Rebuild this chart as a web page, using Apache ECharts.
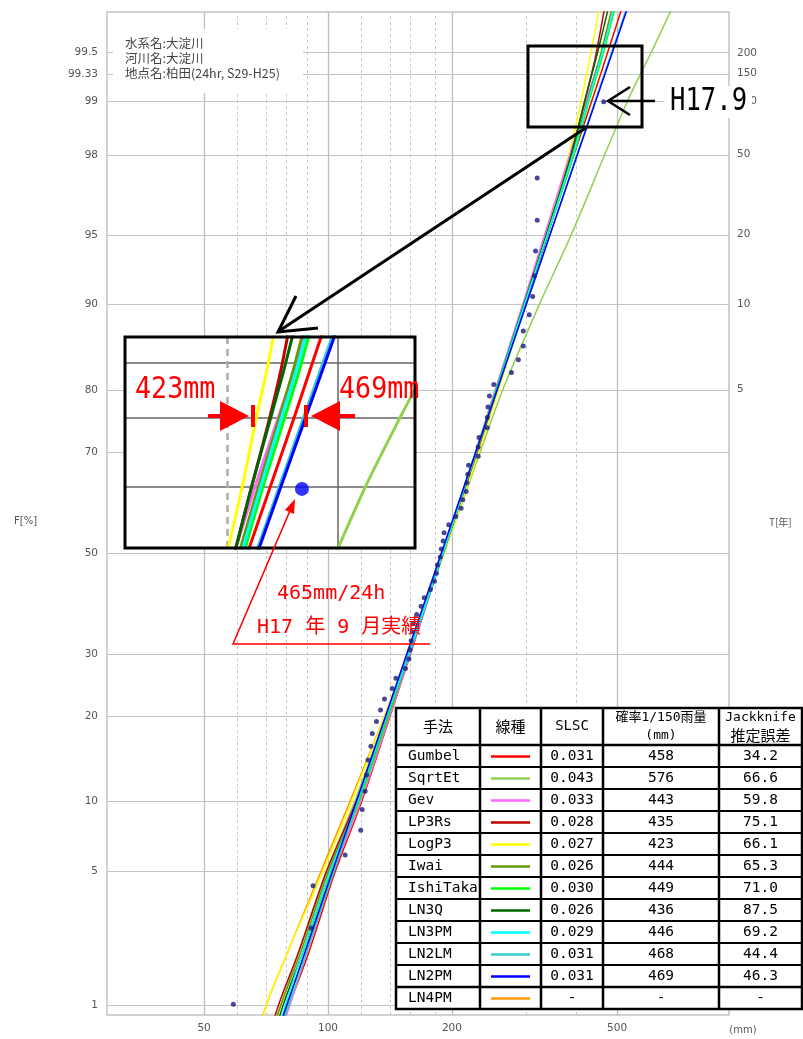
<!DOCTYPE html>
<html><head><meta charset="utf-8">
<script src="https://cdn.jsdelivr.net/npm/echarts@6/dist/echarts.min.js"></script>
<style>html,body{margin:0;padding:0;background:#fff}#c{width:803px;height:1039px}</style>
</head><body><div id="c"></div>
<script>
// ---------------- data ----------------
// observed annual max 24h rainfall (mm), sorted, and plotting probabilities (%)
const obsRain = [59,91,92,110,120,121,123,124,125,127,128,131,134,137,143,146,154,157,158,159,160,161,164,168,171,177,181,183,184,187,188,190,191,196,204,210,212,216,217,218,219,231,231,232,243,243,244,246,252,278,289,297,297,307,313,316,318,321,321,465];
const obsProb = [1.00,2.66,4.32,5.98,7.64,9.30,10.96,12.62,14.29,15.95,17.61,19.27,20.93,22.59,24.25,25.91,27.57,29.24,30.90,32.56,34.22,35.88,37.54,39.20,40.86,42.52,44.19,45.85,47.51,49.17,50.83,52.49,54.15,55.81,57.48,59.14,60.80,62.46,64.12,65.78,67.44,69.10,70.76,72.43,74.09,75.75,77.41,79.07,80.73,82.39,84.05,85.71,87.38,89.04,90.70,92.36,94.02,95.68,97.34,99.00];

// fitted quantiles (mm) at non-exceedance probabilities (%)
const probs     = [0.5, 1, 2, 5, 10, 20, 30, 50, 70, 80, 90, 95, 98, 99, 99.33, 99.5, 99.8];
const qGumbel   = [72.5,80.6,90.0,104.0,120.6,141.3,158.1,190.0,228.3,255.4,298.7,340.3,394.1,434.5,458,474.6,527.6];
const qSqrtEt   = [70,77,85,99,116,138,156,191,234,265,325,389,468,530,572,605,705];
const qGev      = [74,81,89,103,120,141,158,190,228,254,296,335,385,421,443,459,503];
const qLP3Rs    = [70,76,85,99,117,139,157,190,230,257,300,341,388,418,435,446,474];
const qLogP3    = [67,71,80,97,114,137,155,191,232,259,301,338,383,410,423,433,460];
const qIwai     = [71,77,86,100,118,140,157,190,229,256,299,340,390,424,444,458,496];
const qIshiTaka = [74,80,88,102,119,140,157,189,228,255,298,340,394,428,449,464,505];
const qLN3Q     = [72,78,87,101,118,139,157,190,229,256,298,338,388,418,436,449,486];
const qLN3PM    = [73,79,87,101,118,139,157,190,229,256,299,340,392,426,446,461,502];
const qLN2LM    = [73.5,80.5,89.0,103.3,118.1,138.7,155.8,188.8,228.8,257.0,302.0,344.9,400.7,442.7,467.2,485.1,542.0];
const qLN2PM    = [72.6,79.6,88.1,102.4,117.1,137.8,154.9,188.1,228.3,256.7,302.0,345.4,401.8,444.2,469.1,487.3,544.8];
const qLN4PM    = [66,71,80,96,113,137,156,190];

// legend table
const methods = ['Gumbel','SqrtEt','Gev','LP3Rs','LogP3','Iwai','IshiTaka','LN3Q','LN3PM','LN2LM','LN2PM','LN4PM'];
const colors  = ['#ff0000','#92d050','#ff66ff','#c00000','#ffff00','#669900','#00ff00','#006600','#00ffff','#33cccc','#0000ff','#ff9900'];
const slsc    = ['0.031','0.043','0.033','0.028','0.027','0.026','0.030','0.026','0.029','0.031','0.031','-'];
const q150    = ['458','576','443','435','423','444','449','436','446','468','469','-'];
const jack    = ['34.2','66.6','59.8','75.1','66.1','65.3','71.0','87.5','69.2','44.4','46.3','-'];
const quantiles = [qGumbel,qSqrtEt,qGev,qLP3Rs,qLogP3,qIwai,qIshiTaka,qLN3Q,qLN3PM,qLN2LM,qLN2PM,qLN4PM];

// axes
const xGridSolid  = [50,100,200,500];
const xGridDashed = [60,70,80,90,120,140,160,180,300,400];
const xTickLabels = ['50','100','200','500'];
const fGrid  = [1,5,10,20,30,50,70,80,90,95,98,99,99.33,99.5];
const tProbs = [80,90,95,98,99,99.33,99.5];
const tText  = ['5','10','20','50','100','150','200'];
const insetF = [99,99.33,99.5];

// ---------------- scales ----------------
function probit(p){
  const a=[-3.969683028665376e+01,2.209460984245205e+02,-2.759285104469687e+02,1.383577518672690e+02,-3.066479806614716e+01,2.506628277459239e+00];
  const b=[-5.447609879822406e+01,1.615858368580409e+02,-1.556989798598866e+02,6.680131188771972e+01,-1.328068155288572e+01];
  const c=[-7.784894002430293e-03,-3.223964580411365e-01,-2.400758277161838e+00,-2.549671010115819e+00,4.374664141464968e+00,2.938163982698783e+00];
  const d=[7.784695709041462e-03,3.224671290700398e-01,2.445134137142996e+00,3.754408661907416e+00];
  const pl=0.02425, ph=1-pl; let q,r;
  if(p<pl){q=Math.sqrt(-2*Math.log(p));return (((((c[0]*q+c[1])*q+c[2])*q+c[3])*q+c[4])*q+c[5])/((((d[0]*q+d[1])*q+d[2])*q+d[3])*q+1);}
  if(p<=ph){q=p-0.5;r=q*q;return (((((a[0]*r+a[1])*r+a[2])*r+a[3])*r+a[4])*r+a[5])*q/(((((b[0]*r+b[1])*r+b[2])*r+b[3])*r+b[4])*r+1);}
  q=Math.sqrt(-2*Math.log(1-p));return -(((((c[0]*q+c[1])*q+c[2])*q+c[3])*q+c[4])*q+c[5])/((((d[0]*q+d[1])*q+d[2])*q+d[3])*q+1);
}
const lx = v => Math.log10(v);
const pz = f => probit(f/100);
const curve = q => q.map((v,i)=>[lx(v), pz(probs[i])]);
const dots = obsRain.map((v,i)=>[lx(v), pz(obsProb[i])]);

// ---------------- chart ----------------
const chart = echarts.init(document.getElementById('c'), null, {renderer:'canvas'});
const labelStyle = {color:'#555', fontSize:10.5, fontFamily:'DejaVu Sans'};

const mainLines = [];
xGridSolid.forEach((v,i)=>mainLines.push({xAxis:lx(v), lineStyle:{color:'#bdbdbd',width:1.3,type:'solid'},
  label:{show:true, position:'start', distance:8, formatter:xTickLabels[i], ...labelStyle}}));
xGridDashed.forEach(v=>mainLines.push({xAxis:lx(v), lineStyle:{color:'#c8c8c8',width:1,type:[3,3]}, label:{show:false}}));
fGrid.forEach(f=>mainLines.push({yAxis:pz(f), lineStyle:{color:'#c4c4c4',width:1.2,type:'solid'},
  label:{show:true, position:'start', distance:9, formatter:String(f), ...labelStyle}}));

const insetLines = [];
insetF.forEach(f=>insetLines.push({yAxis:pz(f), lineStyle:{color:'#666',width:1.5,type:'solid'}}));
insetLines.push({xAxis:lx(400), lineStyle:{color:'#aaa',width:2.5,type:[7,5]}});
insetLines.push({xAxis:lx(500), lineStyle:{color:'#666',width:1.5,type:'solid'}});

const drawOrder = [11,1,4,0,2,3,5,6,7,8,9,10];
const series = [];
series.push({type:'scatter', xAxisIndex:0, yAxisIndex:0, data:[[0,0]], symbolSize:0, silent:true, z:1,
  markLine:{silent:true, symbol:['none','none'], z:1, animation:false, data:mainLines}});
drawOrder.forEach(k=>series.push({type:'line', name:methods[k], xAxisIndex:0, yAxisIndex:0, data:curve(quantiles[k]),
  showSymbol:false, silent:true, z:3, clip:true, smooth:0.3, lineStyle:{color:colors[k], width:1.5}}));
series.push({type:'scatter', xAxisIndex:0, yAxisIndex:0, data:dots, symbolSize:5, z:4, silent:true,
  itemStyle:{color:'#1a1a80'}});
// inset
series.push({type:'scatter', xAxisIndex:1, yAxisIndex:1, data:[[0,0]], symbolSize:0, silent:true, z:8,
  markLine:{silent:true, symbol:['none','none'], z:8, animation:false, label:{show:false}, data:insetLines}});
drawOrder.forEach(k=>series.push({type:'line', xAxisIndex:1, yAxisIndex:1, data:curve(quantiles[k]),
  showSymbol:false, silent:true, z:10, clip:true, smooth:0.3, lineStyle:{color:colors[k], width:3}}));
series.push({type:'scatter', xAxisIndex:1, yAxisIndex:1, data:dots, symbolSize:14, z:11, clip:true, silent:true,
  itemStyle:{color:'#0000ff'}});

// ---------------- graphics ----------------
const G = [];
const mono = '"DejaVu Sans Mono","Noto Sans CJK JP"';
const cjk = '"Noto Sans CJK JP"';
// info box
G.push({type:'rect', shape:{x:113,y:29,width:190,height:64}, style:{fill:'#fff'}, z:5});
['水系名:大淀川','河川名:大淀川','地点名:柏田(24hr, S29-H25)'].forEach((t,i)=>
  G.push({type:'text', x:125, y:43+i*15, style:{text:t, font:'12.5px '+cjk, fill:'#444', verticalAlign:'middle'}, z:6}));
// axis titles
G.push({type:'text', x:14, y:521, style:{text:'F[%]', font:'10px "DejaVu Sans"', fill:'#555', verticalAlign:'middle'}, z:6});
G.push({type:'text', x:769, y:522, style:{text:'T[年]', font:'10px '+cjk, fill:'#555', verticalAlign:'middle'}, z:6});
G.push({type:'text', x:743, y:1030, style:{text:'(mm)', font:'10px "DejaVu Sans"', fill:'#555', align:'center', verticalAlign:'middle'}, z:6});
// inset box
G.push({type:'rect', shape:{x:125,y:337,width:290,height:211}, style:{fill:'#fff'}, z:5});
G.push({type:'rect', shape:{x:125,y:337,width:290,height:211}, style:{fill:'none', stroke:'#000', lineWidth:3}, z:20});
// zoom box & connector
G.push({type:'rect', shape:{x:528,y:46,width:114,height:81}, style:{fill:'none', stroke:'#000', lineWidth:3}, z:20});
G.push({type:'line', shape:{x1:587,y1:127,x2:279,y2:331}, style:{stroke:'#000', lineWidth:3}, z:20});
G.push({type:'polyline', shape:{points:[[296,296],[278,332],[318,328]]}, style:{fill:'none', stroke:'#000', lineWidth:3}, z:20});
// H17.9 arrow + label
G.push({type:'line', shape:{x1:609,y1:101,x2:655,y2:101}, style:{stroke:'#000', lineWidth:2.5}, z:20});
G.push({type:'polyline', shape:{points:[[630,87],[608,101],[630,115]]}, style:{fill:'none', stroke:'#000', lineWidth:2.5}, z:20});
G.push({type:'rect', shape:{x:664,y:86,width:88,height:32}, style:{fill:'#fff'}, z:19});
G.push({type:'text', x:670, y:102, scaleX:0.8, style:{text:'H17.9', font:'32px "DejaVu Sans Mono"', fill:'#000', verticalAlign:'middle'}, z:20});
// red arrows in inset
G.push({type:'text', x:135, y:390, scaleX:0.89, style:{text:'423mm', font:'30px "DejaVu Sans Mono"', fill:'#ff0000', verticalAlign:'middle'}, z:21});
G.push({type:'text', x:339, y:390, scaleX:0.89, style:{text:'469mm', font:'30px "DejaVu Sans Mono"', fill:'#ff0000', verticalAlign:'middle'}, z:21});
G.push({type:'line', shape:{x1:208,y1:416,x2:222,y2:416}, style:{stroke:'#ff0000', lineWidth:4}, z:21});
G.push({type:'polygon', shape:{points:[[220,401],[220,431],[249,416]]}, style:{fill:'#ff0000'}, z:21});
G.push({type:'rect', shape:{x:251,y:405,width:4,height:22}, style:{fill:'#ff0000'}, z:21});
G.push({type:'line', shape:{x1:338,y1:416,x2:355,y2:416}, style:{stroke:'#ff0000', lineWidth:4}, z:21});
G.push({type:'polygon', shape:{points:[[340,401],[340,431],[311,416]]}, style:{fill:'#ff0000'}, z:21});
G.push({type:'rect', shape:{x:304,y:405,width:4,height:22}, style:{fill:'#ff0000'}, z:21});
// red callout
G.push({type:'polyline', shape:{points:[[430,644],[233,644],[289.5,511.9]]}, style:{fill:'none', stroke:'#ff0000', lineWidth:1.5}, z:21});
G.push({type:'polygon', shape:{points:[[295,499],[294.1,513.9],[284.9,509.9]]}, style:{fill:'#ff0000'}, z:21});
G.push({type:'text', x:277, y:594, style:{text:'465mm/24h', font:'20px '+mono, fill:'#ff0000', verticalAlign:'middle'}, z:21});
G.push({type:'text', x:257, y:628, style:{text:'H17 年 9 月実績', font:'20px '+mono, fill:'#ff0000', verticalAlign:'middle'}, z:21});

// legend table
const colX = [396,480,541,603,719,802];
const tTop = 708, hBot = 745, rowH = 22, nRows = methods.length, tBot = hBot + rowH*nRows;
G.push({type:'rect', shape:{x:colX[0],y:tTop,width:colX[5]-colX[0],height:tBot-tTop}, style:{fill:'#fff', stroke:'#000', lineWidth:2.5}, z:21});
for(let k=0;k<nRows;k++){
  const y = hBot + k*rowH;
  G.push({type:'line', shape:{x1:colX[0],y1:y,x2:colX[5],y2:y}, style:{stroke:'#000', lineWidth:(k===nRows-1||k===0)?2.5:2}, z:22});
}
for(let j=1;j<5;j++) G.push({type:'line', shape:{x1:colX[j],y1:tTop,x2:colX[j],y2:tBot}, style:{stroke:'#000', lineWidth:2.5}, z:22});
const cx = j => (colX[j]+colX[j+1])/2;
const hMid = (tTop+hBot)/2;
G.push({type:'text', x:cx(0), y:hMid, style:{text:'手法', font:'15px '+cjk, fill:'#000', align:'center', verticalAlign:'middle'}, z:23});
G.push({type:'text', x:cx(1), y:hMid, style:{text:'線種', font:'15px '+cjk, fill:'#000', align:'center', verticalAlign:'middle'}, z:23});
G.push({type:'text', x:cx(2), y:hMid, style:{text:'SLSC', font:'14px '+mono, fill:'#000', align:'center', verticalAlign:'middle'}, z:23});
G.push({type:'text', x:cx(3), y:hMid-9, style:{text:'確率1/150雨量', font:'13px '+mono, fill:'#000', align:'center', verticalAlign:'middle'}, z:23});
G.push({type:'text', x:cx(3), y:hMid+9, style:{text:'(mm)', font:'13px '+mono, fill:'#000', align:'center', verticalAlign:'middle'}, z:23});
G.push({type:'text', x:cx(4), y:hMid-9, style:{text:'Jackknife', font:'13px '+mono, fill:'#000', align:'center', verticalAlign:'middle'}, z:23});
G.push({type:'text', x:cx(4), y:hMid+9, style:{text:'推定誤差', font:'15px '+cjk, fill:'#000', align:'center', verticalAlign:'middle'}, z:23});
methods.forEach((m,k)=>{
  const y = hBot + k*rowH + rowH/2 + 0.5;
  G.push({type:'text', x:408, y:y, style:{text:m, font:'14.5px '+mono, fill:'#000', verticalAlign:'middle'}, z:23});
  G.push({type:'line', shape:{x1:491,y1:y,x2:530,y2:y}, style:{stroke:colors[k], lineWidth:2.5}, z:23});
  G.push({type:'text', x:cx(2), y:y, style:{text:slsc[k], font:'14.5px '+mono, fill:'#000', align:'center', verticalAlign:'middle'}, z:23});
  G.push({type:'text', x:cx(3), y:y, style:{text:q150[k], font:'14.5px '+mono, fill:'#000', align:'center', verticalAlign:'middle'}, z:23});
  G.push({type:'text', x:cx(4), y:y, style:{text:jack[k], font:'14.5px '+mono, fill:'#000', align:'center', verticalAlign:'middle'}, z:23});
});

chart.setOption({
  animation:false,
  backgroundColor:'#fff',
  grid:[
    {left:107, top:12, width:622, height:1003, show:true, borderColor:'#c4c4c4', borderWidth:1.5, backgroundColor:'transparent'},
    {left:125, top:337, width:290, height:211, show:false}
  ],
  xAxis:[
    {type:'value', gridIndex:0, min:1.4649, max:2.9709, show:false},
    {type:'value', gridIndex:1, min:2.50661, max:2.77024, show:false}
  ],
  yAxis:[
    {type:'value', gridIndex:0, min:-2.3814, max:2.7887, show:false},
    {type:'value', gridIndex:1, min:2.2074, max:2.6320, show:false}
  ],
  series:series,
  graphic:{elements:G}
});

// right-hand return-period labels, positioned through the y axis scale
tProbs.forEach((f,i)=>{
  const py = chart.convertToPixel({yAxisIndex:0}, pz(f));
  G.push({type:'text', x:737, y:py, style:{text:tText[i], font:'10.5px "DejaVu Sans"', fill:'#555', verticalAlign:'middle'}, z:6});
});
chart.setOption({graphic:{elements:G}});
</script></body></html>
